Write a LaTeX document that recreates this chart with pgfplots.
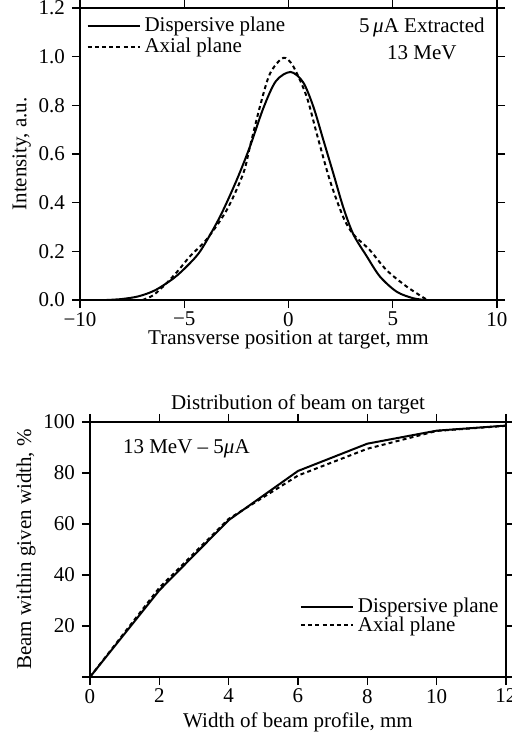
\documentclass[border=0pt]{standalone}
\usepackage{fontspec}
\setmainfont{Liberation Serif}
\usepackage{pgfplots}
\pgfplotsset{compat=1.18}

\pgfplotsset{
  beamax/.style={
    scale only axis,
    anchor=south west,
    tick align=outside,
    major tick length=4pt,
    tick style={black, line width=0.6pt},
    axis line style={line width=0.7pt},
    font=\fontsize{10.5}{12.5}\selectfont,
    /pgf/number format/assume math mode=true,
    ylabel shift=-3pt,
    legend cell align=left,
    legend style={draw=none, fill=none, font=\fontsize{10.5}{11}\selectfont,
      inner sep=1pt},
    legend image code/.code={\draw[#1] (0pt,0pt) -- (26pt,0pt);},
  },
  disp/.style={black, line width=1pt},
  axial/.style={black, line width=1pt, dash pattern=on 2pt off 1.6pt},
}

\begin{document}
\begin{tikzpicture}
\path[use as bounding box] (0,0) rectangle (256pt,367.5pt);

% upper panel: beam profile
\begin{axis}[beamax,
  at={(40pt,217.5pt)}, width=208.5pt, height=146pt,
  xmin=-10, xmax=10, ymin=0, ymax=1.2,
  xtick={-10,-5,0,5,10}, xticklabels={−10,−5,0,5,10},
  ytick={0,0.2,0.4,0.6,0.8,1.0,1.2},
  yticklabels={0.0,0.2,0.4,0.6,0.8,1.0,1.2},
  xlabel={Transverse position at target, mm},
  ylabel={Intensity, a.u.},
  xticklabel style={yshift=1.5pt},
  xlabel style={yshift=4.5pt},
  legend style={at={(0.01,0.99)}, anchor=north west, row sep=-2.5pt},
]
\addplot[disp, smooth] coordinates {
  (-8.72,0) (-8.0,0.004) (-7.2,0.015) (-6.4,0.04) (-5.5,0.09)
  (-4.8,0.145) (-4.2,0.205) (-3.3,0.34) (-2.5,0.49) (-1.85,0.63)
  (-1.2,0.79) (-0.6,0.9) (0.1,0.937) (0.7,0.895)
  (1.19,0.795) (1.67,0.658) (2.15,0.52) (2.63,0.38) (3.11,0.27)
  (3.75,0.18) (4.39,0.096) (5.19,0.034) (5.99,0.007) (6.6,0)
};
\addlegendentry{Dispersive plane}
\addplot[axial, smooth] coordinates {
  (-7.0,0) (-6.48,0.02) (-5.84,0.07) (-5.3,0.12) (-4.72,0.18) (-3.92,0.25)
  (-2.96,0.37) (-2.17,0.52) (-1.85,0.63) (-1.37,0.795) (-0.89,0.93)
  (-0.25,0.995) (0.23,0.96) (0.87,0.836) (1.35,0.685) (1.99,0.49)
  (2.63,0.34) (3.11,0.27) (3.9,0.205) (4.7,0.123) (5.67,0.055) (6.6,0.003)
};
\addlegendentry{Axial plane}
\node[align=center, font=\fontsize{10.5}{13.5}\selectfont] at (axis cs:6.4,1.075)
  {5\,\textit{μ}A Extracted\\13 MeV};
\end{axis}

% lower panel: cumulative beam fraction
\begin{axis}[beamax,
  at={(45pt,29pt)}, width=208pt, height=127.5pt,
  xmin=0, xmax=12, ymin=0, ymax=100,
  xtick={0,2,...,12},
  ytick={0,20,40,60,80,100},
  yticklabels={,20,40,60,80,100},
  title={Distribution of beam on target},
  title style={yshift=-5.5pt},
  xlabel={Width of beam profile, mm},
  xlabel style={yshift=2pt},
  xticklabel style={yshift=1.5pt},
  ylabel={Beam within given width, \%},
  legend style={at={(0.499,0.335)}, anchor=north west, row sep=-3.5pt},
]
\addplot[disp] coordinates {
  (0,0) (2,34) (4,61.5) (6,80.8) (8,91.5) (10,96.6) (12,98.6)
};
\addlegendentry{Dispersive plane}
\addplot[axial] coordinates {
  (0,0) (2,35) (4,62) (6,79) (8,89.5) (10,96.5) (12,98.5)
};
\addlegendentry{Axial plane}
\node[anchor=west, font=\fontsize{10.5}{12.5}\selectfont] at (axis cs:0.75,89.5)
  {13 MeV -- 5\textit{μ}A};
\end{axis}
\end{tikzpicture}
\end{document}
